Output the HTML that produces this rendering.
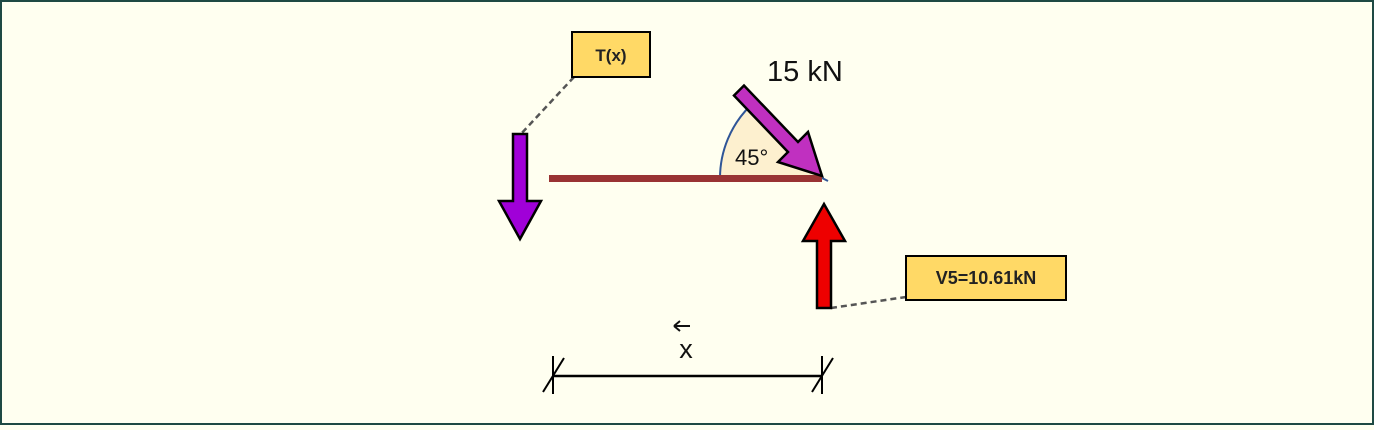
<!DOCTYPE html>
<html><head><style>
html,body{margin:0;padding:0;}
body{width:1374px;height:425px;overflow:hidden;background:#fffff0;}
</style></head><body>
<svg width="1374" height="425" viewBox="0 0 1374 425" xmlns="http://www.w3.org/2000/svg" font-family="Liberation Sans, sans-serif">
<rect x="1" y="1" width="1372" height="423" fill="#fffff0" stroke="#1e4a44" stroke-width="2"/>
<!-- angle wedge -->
<path d="M822,178 L720,178 A102,102 0 0 1 750,106 Z" fill="#fdf0cf"/>
<path d="M720,178 A102,102 0 0 1 750,106" fill="none" stroke="#2f5597" stroke-width="2"/>
<path d="M822,178 L828,181" stroke="#2f5597" stroke-width="2"/>
<!-- beam -->
<rect x="549" y="175" width="273" height="7" fill="#993333"/>
<text x="735" y="165" font-size="22" fill="#111">45°</text>
<!-- diagonal arrow -->
<polygon points="734,95.5 744,85.5 798,142 808,132 822,176 778,162 788,152" fill="#c030c0" stroke="#000" stroke-width="2.5" stroke-linejoin="miter"/>
<text x="767" y="81" font-size="29" fill="#111">15 kN</text>
<!-- T(x) -->
<line x1="574" y1="77" x2="520" y2="135" stroke="#555" stroke-width="2.5" stroke-dasharray="6,4"/>
<rect x="572" y="32" width="78" height="45" fill="#ffd966" stroke="#000" stroke-width="2"/>
<text x="611" y="61" font-size="17" font-weight="bold" text-anchor="middle" fill="#222">T(x)</text>
<!-- purple down arrow -->
<polygon points="513,134 527,134 527,201 541,201 520,239 499,201 513,201" fill="#a000d8" stroke="#000" stroke-width="2.5"/>
<!-- V5 -->
<line x1="831" y1="308" x2="906" y2="297" stroke="#555" stroke-width="2.5" stroke-dasharray="6,4"/>
<rect x="906" y="256" width="160" height="44" fill="#ffd966" stroke="#000" stroke-width="2"/>
<text x="986" y="284" font-size="18" font-weight="bold" text-anchor="middle" fill="#222">V5=10.61kN</text>
<!-- red up arrow -->
<polygon points="817,308 831,308 831,241 845,241 824,204 803,241 817,241" fill="#ee0000" stroke="#000" stroke-width="2.5"/>
<!-- dimension -->
<line x1="553" y1="376" x2="822" y2="376" stroke="#000" stroke-width="2.5"/>
<line x1="553" y1="356" x2="553" y2="394" stroke="#000" stroke-width="2"/>
<line x1="822" y1="356" x2="822" y2="394" stroke="#000" stroke-width="2"/>
<line x1="543" y1="392" x2="564" y2="358" stroke="#000" stroke-width="2"/>
<line x1="812" y1="392" x2="833" y2="358" stroke="#000" stroke-width="2"/>
<text x="686" y="358" font-size="27" text-anchor="middle" fill="#111">x</text>
<path d="M674,326 L690,326 M674,326 L680,321 M674,326 L680,331" stroke="#111" stroke-width="2" fill="none"/>
</svg>
</body></html>
